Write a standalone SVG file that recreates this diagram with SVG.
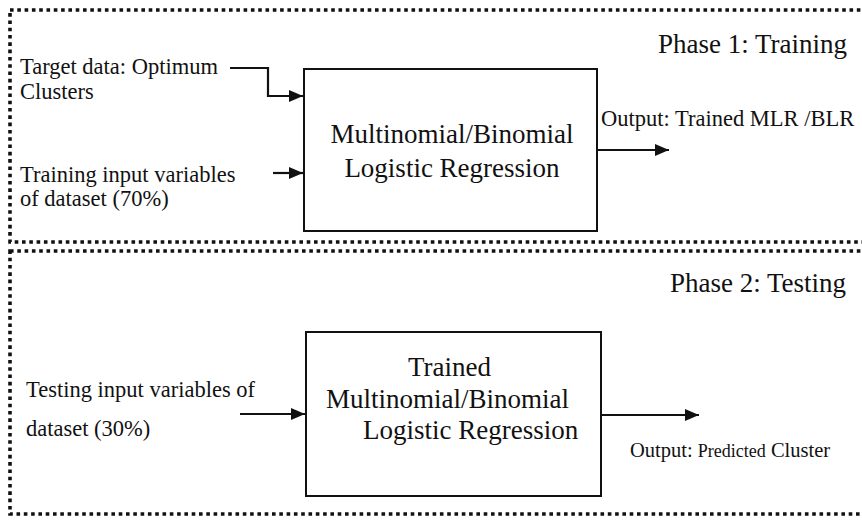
<svg xmlns="http://www.w3.org/2000/svg" width="862" height="521" viewBox="0 0 862 521">
  <style>
    .frame { fill: none; stroke: #111; stroke-width: 3.6; stroke-dasharray: 3.6 3.7; }
    .box { fill: #fff; stroke: #111; stroke-width: 2; }
    .wire { fill: none; stroke: #111; stroke-width: 2.2; }
    text { font-family: "Liberation Serif", "Times New Roman", serif; fill: #111; }
    .big { font-size: 27px; }
    .lbl { font-size: 22.5px; }
  </style>
  <defs>
    <marker id="arrow" viewBox="0 0 14 12" refX="14" refY="6" markerWidth="14" markerHeight="12" markerUnits="userSpaceOnUse" orient="auto">
      <path d="M0,0 L14,6 L0,12 Z" fill="#111"/>
    </marker>
  </defs>
  <rect width="862" height="521" fill="#fff"/>

  <!-- phase frames (open on the right edge) -->
  <rect class="frame" x="10" y="10" width="870" height="232"/>
  <rect class="frame" x="10" y="251" width="870" height="263"/>

  <g id="phase1-title"><text class="big" x="847" y="53" text-anchor="end">Phase 1: Training</text></g>
  <g id="phase2-title"><text class="big" x="846" y="292" text-anchor="end">Phase 2: Testing</text></g>

  <g id="target-input">
    <text class="lbl" x="20" y="74">Target data: Optimum</text>
    <text class="lbl" x="20" y="99">Clusters</text>
  </g>
  <g id="train-input">
    <text class="lbl" x="20" y="182">Training input variables</text>
    <text class="lbl" x="20" y="206">of dataset (70%)</text>
  </g>

  <g id="mlr-model">
    <rect class="box" x="304" y="69" width="293" height="162"/>
    <text class="big" x="452" y="143" text-anchor="middle">Multinomial/Binomial</text>
    <text class="big" x="452" y="177" text-anchor="middle">Logistic Regression</text>
  </g>

  <g id="train-output">
    <text class="lbl" x="601" y="126">Output: Trained MLR /BLR</text>
  </g>

  <g id="test-input">
    <text class="lbl" x="26" y="397">Testing input variables of</text>
    <text class="lbl" x="26" y="436">dataset (30%)</text>
  </g>

  <g id="trained-model">
    <rect class="box" x="306" y="332" width="295" height="164"/>
    <text class="big" x="408" y="376">Trained</text>
    <text class="big" x="326" y="408">Multinomial/Binomial</text>
    <text class="big" x="363" y="439">Logistic Regression</text>
  </g>

  <g id="test-output">
    <text x="630" y="457" font-size="20.5">Output: <tspan font-size="18">Predicted</tspan> Cluster</text>
  </g>

  <g id="connectors">
    <path class="wire" d="M230,68 H268 V96 H303" marker-end="url(#arrow)"/>
    <path class="wire" d="M273,173 H303" marker-end="url(#arrow)"/>
    <path class="wire" d="M597,150 H669" marker-end="url(#arrow)"/>
    <path class="wire" d="M240,414 H305" marker-end="url(#arrow)"/>
    <path class="wire" d="M601,415 H699" marker-end="url(#arrow)"/>
  </g>
</svg>
